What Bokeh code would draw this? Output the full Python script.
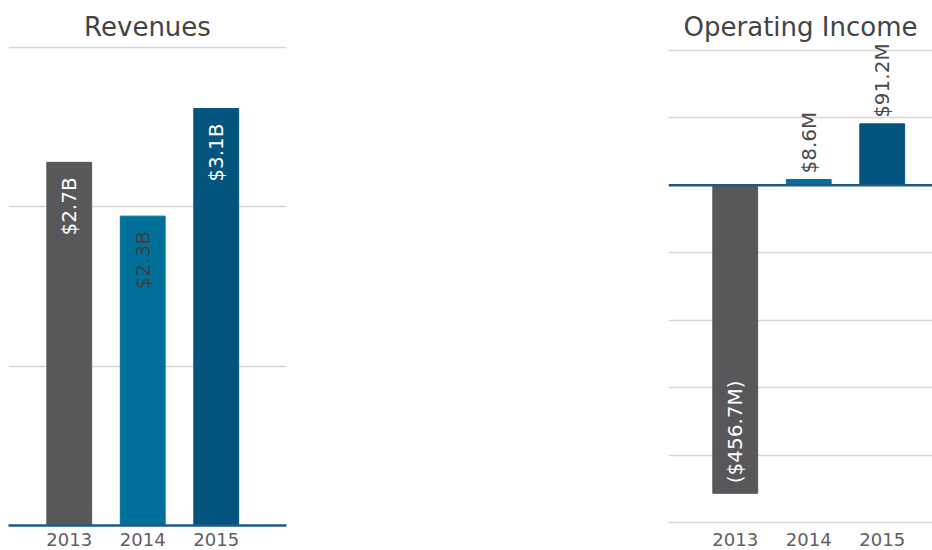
import math
from bokeh.plotting import figure
from bokeh.models import Range1d, FixedTicker, Span, ColumnDataSource, Spacer
from bokeh.layouts import row
from bokeh.core.properties import value
from bokeh.embed import file_html
from bokeh.resources import INLINE

# ---- data ----
years = ["2013", "2014", "2015"]
revenues_b = [2.7, 2.3, 3.1]
revenue_labels = ["$2.7B", "$2.3B", "$3.1B"]
op_income_m = [-456.7, 8.6, 91.2]
op_income_labels = ["($456.7M)", "$8.6M", "$91.2M"]
revenue_grid = [1.185, 2.37, 3.555]
income_grid = [-500, -400, -300, -200, -100, 100, 200]

bar_colors = ["#58585a", "#00709b", "#03547f"]
rev_label_colors = ["#ffffff", "#404040", "#ffffff"]
FONT = "DejaVu Sans"
H = 550
xs = list(range(len(years)))


def style(p):
    p.outline_line_color = None
    p.yaxis.visible = False
    p.xgrid.visible = False
    p.ygrid.grid_line_color = "#d6d6d6"
    p.ygrid.grid_line_width = 1.5
    p.xaxis.ticker = FixedTicker(ticks=xs)
    p.xaxis.major_label_overrides = {i: y for i, y in enumerate(years)}
    p.xaxis.major_tick_line_color = None
    p.xaxis.minor_tick_line_color = None
    p.xaxis.major_tick_out = 0
    p.xaxis.major_label_standoff = 7
    p.xaxis.major_label_text_font = FONT
    p.xaxis.major_label_text_font_size = "18px"
    p.xaxis.major_label_text_color = "#606060"
    p.title.align = "center"
    p.title.text_font = FONT
    p.title.text_font_size = "26px"
    p.title.text_font_style = "normal"
    p.title.text_color = "#444444"
    p.title.standoff = 6
    p.min_border_top = 44
    p.min_border_bottom = 25


# ---- Revenues ----
p1 = figure(width=308, height=H, output_backend="svg", toolbar_location=None,
            title="Revenues",
            x_range=Range1d(-0.8265, 2.956), y_range=Range1d(0, 3.576))
p1.min_border_left = 8
p1.min_border_right = 22
style(p1)
p1.ygrid.ticker = FixedTicker(ticks=revenue_grid)
p1.xaxis.axis_line_color = "#1b5a86"
p1.xaxis.axis_line_width = 2.5

src1 = ColumnDataSource(dict(x=xs, top=revenues_b, color=bar_colors,
                             label=revenue_labels, tcolor=rev_label_colors))
p1.vbar(x="x", top="top", bottom=0, width=0.61, color="color", source=src1)
p1.text(x="x", y="top", text="label", source=src1, angle=math.pi / 2,
        text_align="right", text_baseline="middle", y_offset=15,
        text_color="tcolor", text_font=value(FONT), text_font_size="20px")

# ---- Operating Income ----
p2 = figure(width=272, height=H, output_backend="svg", toolbar_location=None,
            title="Operating Income",
            x_range=Range1d(-0.908, 2.684), y_range=Range1d(-504.45, 208.9))
p2.min_border_left = 8
p2.min_border_right = 0
style(p2)
p2.ygrid.ticker = FixedTicker(ticks=income_grid)
p2.xaxis.axis_line_color = None

src2 = ColumnDataSource(dict(x=xs, top=op_income_m, color=bar_colors,
                             label=op_income_labels))
p2.vbar(x="x", top="top", bottom=0, width=0.61, color="color", source=src2)
p2.add_layout(Span(location=0, dimension="width", line_color="#1b5a86",
                   line_width=2.5))

neg = ColumnDataSource(dict(x=[i for i, v in enumerate(op_income_m) if v < 0],
                            y=[v for v in op_income_m if v < 0],
                            label=[l for l, v in zip(op_income_labels, op_income_m) if v < 0]))
pos = ColumnDataSource(dict(x=[i for i, v in enumerate(op_income_m) if v >= 0],
                            y=[v for v in op_income_m if v >= 0],
                            label=[l for l, v in zip(op_income_labels, op_income_m) if v >= 0]))
p2.text(x="x", y="y", text="label", source=neg, angle=math.pi / 2,
        text_align="left", text_baseline="middle", y_offset=-10,
        text_color="#ffffff", text_font=value(FONT), text_font_size="20px")
p2.text(x="x", y="y", text="label", source=pos, angle=math.pi / 2,
        text_align="left", text_baseline="middle", y_offset=-6,
        text_color="#4a4a4a", text_font=value(FONT), text_font_size="20px")

layout = row(p1, Spacer(width=352, height=H), p2)
open("out.html", "w").write(file_html(layout, INLINE))
